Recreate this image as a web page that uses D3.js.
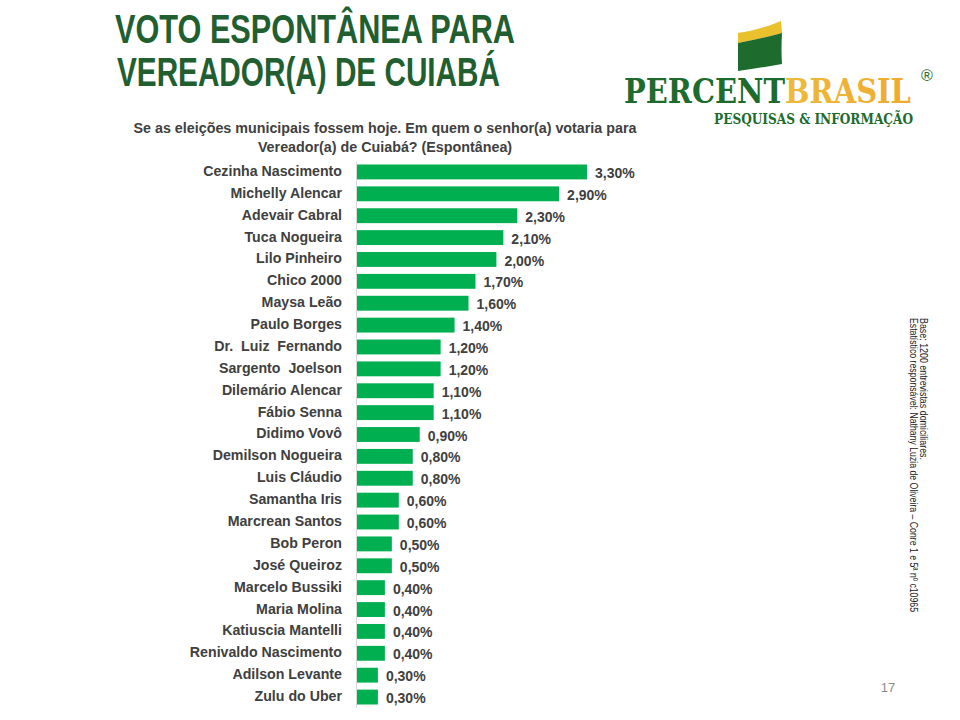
<!DOCTYPE html>
<html><head><meta charset="utf-8">
<script src="https://cdn.jsdelivr.net/npm/d3@7"></script>
<style>
html,body{margin:0;padding:0;background:#fff;}
svg{display:block;}
</style></head>
<body>
<svg id="chart" width="960" height="720"></svg>
<script>
const categories = ["Cezinha Nascimento","Michelly Alencar","Adevair Cabral","Tuca Nogueira","Lilo Pinheiro","Chico 2000","Maysa Leão","Paulo Borges","Dr.  Luiz  Fernando","Sargento  Joelson","Dilemário Alencar","Fábio Senna","Didimo Vovô","Demilson Nogueira","Luis Cláudio","Samantha Iris","Marcrean Santos","Bob Peron","José Queiroz","Marcelo Bussiki","Maria Molina","Katiuscia Mantelli","Renivaldo Nascimento","Adilson Levante","Zulu do Uber"];
const values = [3.3,2.9,2.3,2.1,2.0,1.7,1.6,1.4,1.2,1.2,1.1,1.1,0.9,0.8,0.8,0.6,0.6,0.5,0.5,0.4,0.4,0.4,0.4,0.3,0.3];
const titleLines = ["VOTO ESPONTÂNEA PARA","VEREADOR(A) DE CUIABÁ"];
const subtitleLines = ["Se as eleições municipais fossem hoje. Em quem o senhor(a) votaria para","Vereador(a) de Cuiabá? (Espontânea)"];
const sideNotes = ["Base: 1200 entrevistas domiciliares.","Estatístico responsável: Nathany Luzia de Oliveira – Conre 1 e 5ª nº c10965"];
const pageNumber = "17";

const svg = d3.select("#chart");
const fmt = v => d3.format(".2f")(v).replace(".", ",") + "%";

// Title
const titleG = svg.append("g");
[{t:titleLines[0], y:43, len:400, x:115},{t:titleLines[1], y:86, len:383, x:117}].forEach(d=>{
  titleG.append("text").attr("x",d.x).attr("y",d.y)
    .attr("textLength",d.len).attr("lengthAdjust","spacingAndGlyphs")
    .style("font-family","'Liberation Sans Narrow','Liberation Sans',Arial,sans-serif")
    .style("font-weight","bold").style("font-size","40px").style("fill","#215E30")
    .text(d.t);
});

// Logo
const logo = svg.append("g");
logo.append("path").attr("d","M738,33 Q760,30 781,21 L782,33 Q760,39 738,43 Z").attr("fill","#E8C12C");
logo.append("path").attr("d","M738,43 Q760,39 782,33 Q781,50 782,64 Q760,68 738,71 Z").attr("fill","#1E6B2E");
const grad = svg.append("defs").append("linearGradient").attr("id","yg").attr("x1","0").attr("x2","1").attr("y1","0").attr("y2","0");
grad.append("stop").attr("offset","0").attr("stop-color","#EBD04A");
grad.append("stop").attr("offset","1").attr("stop-color","#EFA92E");
const brand = logo.append("text").attr("x",624).attr("y",103).attr("textLength",287).attr("lengthAdjust","spacingAndGlyphs")
  .style("font-family","'DejaVu Serif','Liberation Serif',serif").style("font-weight","bold").style("font-size","34px");
brand.append("tspan").style("fill","#1E6B2E").text("PERCENT");
brand.append("tspan").style("fill","url(#yg)").text("BRASIL");
logo.append("text").attr("x",921).attr("y",81)
  .style("font-family","'Liberation Sans',Arial,sans-serif").style("font-size","16px")
  .style("fill","#1E6B2E").text("®");
logo.append("text").attr("x",714).attr("y",124).attr("textLength",199).attr("lengthAdjust","spacingAndGlyphs")
  .style("font-family","'DejaVu Serif','Liberation Serif',serif").style("font-weight","bold").style("font-size","14px")
  .style("fill","#1E6B2E").text("PESQUISAS & INFORMAÇÃO");

// Subtitle
svg.append("g").selectAll("text").data(subtitleLines).join("text")
  .attr("x",385).attr("y",(d,i)=>133+i*19).attr("text-anchor","middle")
  .style("font-family","'Liberation Sans',Arial,sans-serif").style("font-weight","bold").style("font-size","14.3px")
  .style("fill","#404040").text(d=>d);

// Chart
const x0 = 357;
const x = d3.scaleLinear().domain([0,3.3]).range([x0,587]);
const y = d3.scaleBand().domain(categories).range([161,708]).paddingInner(0.32).paddingOuter(0.16);

svg.append("line").attr("x1",x0-0.5).attr("x2",x0-0.5).attr("y1",161).attr("y2",708)
  .attr("stroke","#D9D9D9").attr("stroke-width",1);

const rows = svg.append("g");
rows.selectAll("rect").data(values).join("rect")
  .attr("x",x(0)).attr("y",(d,i)=>y(categories[i]))
  .attr("width",d=>x(d)-x(0)).attr("height",y.bandwidth())
  .attr("fill","#00B050");

const yAxis = d3.axisLeft(y).tickSize(0).tickPadding(15);
const ag = svg.append("g").attr("transform",`translate(${x0},0)`).call(yAxis);
ag.select(".domain").remove();
ag.selectAll("text")
  .style("font-family","'Liberation Sans',Arial,sans-serif").style("font-weight","bold").style("font-size","14.2px")
  .style("white-space","pre").attr("xml:space","preserve")
  .style("fill","#404040").attr("dy","0.28em");

rows.selectAll("text.val").data(values).join("text").attr("class","val")
  .attr("x",d=>x(d)+8).attr("y",(d,i)=>y(categories[i])+y.bandwidth()/2+1)
  .attr("dy","0.36em")
  .style("font-family","'Liberation Sans',Arial,sans-serif").style("font-weight","bold").style("font-size","14px")
  .style("fill","#404040").text(d=>fmt(d));

// Side notes
const side = svg.append("g");
[{t:sideNotes[0],x:920,len:142},{t:sideNotes[1],x:910,len:294}].forEach(d=>{
  side.append("text").attr("transform",`translate(${d.x},318) rotate(90)`)
    .attr("textLength",d.len).attr("lengthAdjust","spacingAndGlyphs")
    .style("font-family","'Liberation Sans',Arial,sans-serif").style("font-size","10.5px")
    .style("fill","#222").text(d.t);
});

// Page number
svg.append("text").attr("x",888).attr("y",692).attr("text-anchor","middle")
  .style("font-family","'Liberation Sans',Arial,sans-serif").style("font-size","13px")
  .style("fill","#8C8C8C").text(pageNumber);
</script>
</body></html>
